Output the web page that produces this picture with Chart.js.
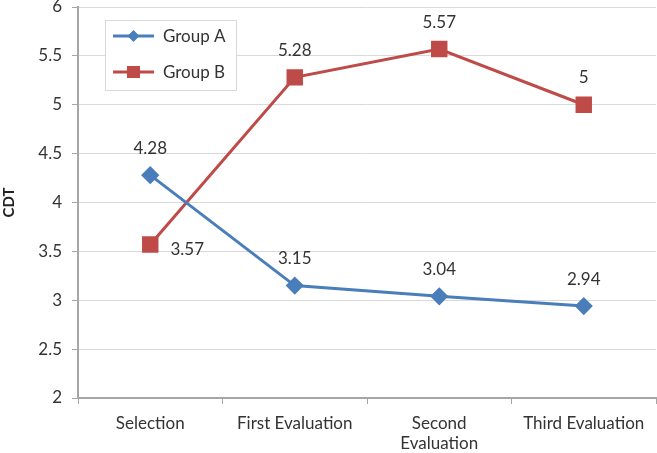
<!DOCTYPE html>
<html>
<head>
<meta charset="utf-8">
<script src="https://cdn.jsdelivr.net/npm/chart.js@4/dist/chart.umd.min.js"></script>
<style>
  html, body { margin: 0; padding: 0; background: #fff; }
  #wrap { width: 657px; height: 453px; position: relative; }
</style>
</head>
<body>
<div id="wrap"><canvas id="c"></canvas></div>
<script>
'use strict';

const categories = ['Selection', 'First Evaluation', ['Second', 'Evaluation'], 'Third Evaluation'];
const groupA = [4.28, 3.15, 3.04, 2.94];
const groupB = [3.57, 5.28, 5.57, 5.00];
const groupALabels = ['4.28', '3.15', '3.04', '2.94'];
const groupBLabels = ['3.57', '5.28', '5.57', '5'];

const FONT = 'Lato, "Open Sans", sans-serif';
const BLUE = '#4a7ebb';
const RED = '#be4b48';
const INK = '#333333';

// Value labels: above each point, except the first Group B point (to the right).
const valueLabels = {
  id: 'valueLabels',
  afterDatasetsDraw(chart) {
    const ctx = chart.ctx;
    ctx.save();
    ctx.font = '17px ' + FONT;
    ctx.fillStyle = INK;
    ctx.textAlign = 'center';
    ctx.textBaseline = 'middle';
    chart.data.datasets.forEach(function (ds, di) {
      const meta = chart.getDatasetMeta(di);
      meta.data.forEach(function (pt, i) {
        const txt = ds.valueText[i];
        if (di === 1 && i === 0) {
          ctx.fillText(txt, pt.x + 37, pt.y + 5);
        } else {
          ctx.fillText(txt, pt.x, pt.y - 27);
        }
      });
    });
    ctx.restore();
  }
};

// Boxed legend sitting inside the plot area, top-left.
const boxLegend = {
  id: 'boxLegend',
  afterDraw(chart) {
    const ctx = chart.ctx;
    const x0 = chart.chartArea.left + 27;
    const y0 = chart.chartArea.top + 13;
    const w = 131, h = 70;
    ctx.save();
    ctx.fillStyle = '#ffffff';
    ctx.fillRect(x0, y0, w, h);
    ctx.strokeStyle = '#d9d9d9';
    ctx.lineWidth = 1;
    ctx.strokeRect(x0 + 0.5, y0 + 0.5, w, h);
    ctx.font = '17px ' + FONT;
    ctx.textBaseline = 'middle';
    ctx.textAlign = 'left';
    chart.data.datasets.forEach(function (ds, i) {
      const cy = y0 + 16 + i * 36;
      ctx.strokeStyle = ds.borderColor;
      ctx.lineWidth = 3;
      ctx.beginPath();
      ctx.moveTo(x0 + 8, cy);
      ctx.lineTo(x0 + 49, cy);
      ctx.stroke();
      ctx.fillStyle = ds.borderColor;
      if (ds.pointStyle === 'rectRot') {
        ctx.beginPath();
        ctx.moveTo(x0 + 28.5, cy - 6);
        ctx.lineTo(x0 + 34.5, cy);
        ctx.lineTo(x0 + 28.5, cy + 6);
        ctx.lineTo(x0 + 22.5, cy);
        ctx.closePath();
        ctx.fill();
      } else {
        ctx.fillRect(x0 + 22, cy - 6, 13, 12);
      }
      ctx.fillStyle = INK;
      ctx.fillText(ds.label, x0 + 58, cy + 1);
    });
    ctx.restore();
  }
};

new Chart(document.getElementById('c').getContext('2d'), {
  type: 'line',
  data: {
    labels: categories,
    datasets: [
      {
        label: 'Group A',
        data: groupA,
        valueText: groupALabels,
        borderColor: BLUE,
        backgroundColor: BLUE,
        borderWidth: 3,
        pointStyle: 'rectRot',
        pointRadius: 7,
        pointHoverRadius: 7,
        tension: 0,
      },
      {
        label: 'Group B',
        data: groupB,
        valueText: groupBLabels,
        borderColor: RED,
        backgroundColor: RED,
        borderWidth: 3,
        pointStyle: 'rect',
        pointRadius: 9.5,
        pointHoverRadius: 9.5,
        tension: 0,
      },
    ],
  },
  options: {
    responsive: true,
    maintainAspectRatio: false,
    animation: false,
    layout: { autoPadding: false, padding: { top: 7, right: 1, left: 0, bottom: 0 } },
    plugins: {
      legend: { display: false },
      tooltip: { enabled: false },
    },
    scales: {
      x: {
        offset: true,
        grid: { offset: true, drawOnChartArea: false, color: '#a6a6a6', tickLength: 6 },
        border: { color: '#a6a6a6', width: 2 },
        ticks: { color: INK, font: { family: FONT, size: 17 }, maxRotation: 0, padding: 9 },
        afterFit: function (scale) {
          scale.height = 55;
          scale.paddingLeft = 0;
          scale.paddingRight = 0;
        },
      },
      y: {
        min: 2,
        max: 6,
        ticks: {
          stepSize: 0.5, color: INK, font: { family: FONT, size: 17 }, padding: 10,
          callback: function (v) { return String(v); },
        },
        grid: { color: '#d9d9d9', tickLength: 6, tickColor: '#a6a6a6' },
        border: { color: '#a6a6a6', width: 2 },
        title: {
          display: true,
          text: 'CDT',
          color: '#222',
          font: { family: FONT, size: 15, weight: 'bold' },
          padding: { top: 0, bottom: 0 },
        },
        afterFit: function (scale) {
          scale.width = 78;
          scale.paddingTop = 0;
          scale.paddingBottom = 0;
        },
      },
    },
  },
  plugins: [valueLabels, boxLegend],
});
</script>
</body>
</html>
